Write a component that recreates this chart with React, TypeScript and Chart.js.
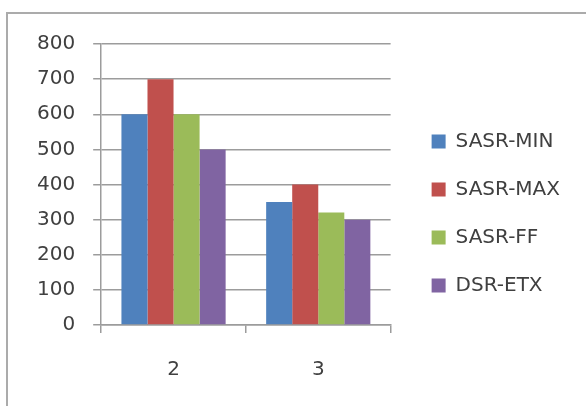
import React, { useEffect, useRef } from "react";
import { Chart, registerables } from "chart.js";

Chart.register(...registerables);

const categories = ["2", "3"];
const seriesNames = ["SASR-MIN", "SASR-MAX", "SASR-FF", "DSR-ETX"];
const sasrMin = [600, 350];
const sasrMax = [700, 400];
const sasrFF = [600, 320];
const dsrEtx = [500, 300];
const seriesColors = ["#4f81bd", "#c0504d", "#9bbb59", "#8064a2"];
const yMin = 0;
const yMax = 800;
const yStep = 100;

const textColor = "#404040";
const gridColor = "#9c9c9c";
const font = { family: "'DejaVu Sans', sans-serif", size: 20 };

export default function App() {
  const ref = useRef<HTMLCanvasElement | null>(null);

  useEffect(() => {
    if (!ref.current) return;
    const values = [sasrMin, sasrMax, sasrFF, dsrEtx];
    const chart = new Chart(ref.current, {
      type: "bar",
      data: {
        labels: categories,
        datasets: values.map((v, i) => ({
          label: seriesNames[i],
          data: v,
          backgroundColor: seriesColors[i],
          borderWidth: 0,
          categoryPercentage: 0.72,
          barPercentage: 1,
        })),
      },
      options: {
        responsive: false,
        animation: false,
        layout: { padding: { left: 11, top: 7, right: 16, bottom: 0 } },
        plugins: {
          tooltip: { enabled: false },
          title: {
            display: true,
            text: "",
            font: { size: 10 },
            padding: { top: 4, bottom: 4 },
          },
          legend: {
            position: "right",
            align: "center",
            maxWidth: 220,
            labels: {
              boxWidth: 14,
              boxHeight: 14,
              padding: 28,
              font,
              color: textColor,
            },
          },
        },
        scales: {
          x: {
            grid: {
              offset: true,
              drawOnChartArea: false,
              drawTicks: true,
              tickLength: 8,
              color: gridColor,
              lineWidth: 1.5,
            },
            border: { color: gridColor, width: 1.5 },
            ticks: { padding: 24.5, font, color: textColor },
          },
          y: {
            min: yMin,
            max: yMax,
            ticks: { stepSize: yStep, padding: 18, font, color: textColor },
            grid: { color: gridColor, lineWidth: 1.5, tickLength: 8 },
            border: { color: gridColor, width: 1.5 },
          },
          y2: {
            type: "linear",
            position: "right",
            display: true,
            grid: { display: false },
            border: { display: false },
            ticks: { display: false },
            afterFit: (s: any) => {
              s.width = 13;
            },
          },
        },
      },
    } as any);
    return () => chart.destroy();
  }, []);

  return (
    <>
      <div
        style={{
          position: "absolute",
          left: 6,
          top: 12,
          width: 578,
          height: 392,
          borderLeft: "2px solid #ababab",
          borderTop: "2px solid #ababab",
          background: "#fff",
        }}
      />
      <canvas
        ref={ref}
        width={578}
        height={392}
        style={{ position: "absolute", left: 8, top: 14, display: "block" }}
      />
    </>
  );
}
